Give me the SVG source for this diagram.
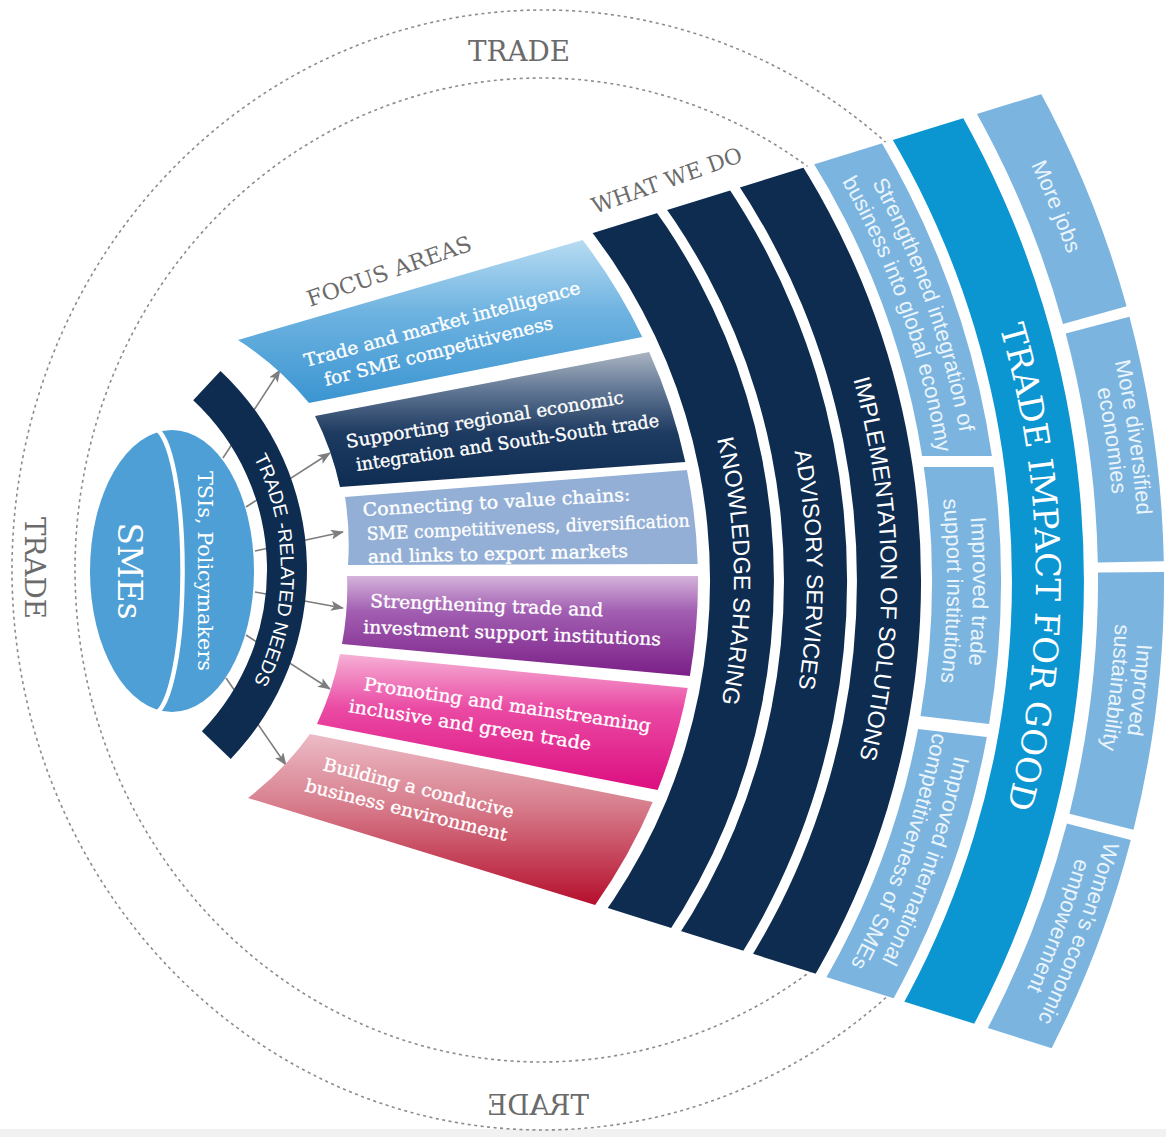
<svg xmlns="http://www.w3.org/2000/svg" width="1166" height="1137" viewBox="0 0 1166 1137">
  <defs>
    <style>
      .slab{font-family:"DejaVu Serif","Liberation Serif",serif}
      .sans{font-family:"Liberation Sans",Arial,sans-serif}
      .gray{fill:#6b6b6b}
      .focus{font-size:18px;fill:#ffffff;stroke:#ffffff;stroke-width:0.35}
      .wwd{fill:#ffffff}
      .out{font-size:22px;fill:#eaf4fb}
      .navy{fill:#0e2c50}
      .light{fill:#7cb4e0}
      .dash{fill:none;stroke:#8c8c8c;stroke-width:1.6;stroke-dasharray:3 3.5}
      .arrow{stroke:#7d7d7d;stroke-width:1.6;fill:none}
    </style>
    <linearGradient id="g1" x1="0" y1="0" x2="0" y2="1">
      <stop offset="0" stop-color="#b7dbf2"/><stop offset="0.45" stop-color="#6db2e0"/><stop offset="1" stop-color="#3b95d1"/>
    </linearGradient>
    <linearGradient id="g2" x1="0" y1="0" x2="0" y2="1">
      <stop offset="0" stop-color="#aab4c2"/><stop offset="0.3" stop-color="#5d7391"/><stop offset="0.6" stop-color="#1d3a60"/><stop offset="1" stop-color="#0f2c52"/>
    </linearGradient>
    <linearGradient id="g4" x1="0" y1="0" x2="0" y2="1">
      <stop offset="0" stop-color="#d4b3da"/><stop offset="0.35" stop-color="#a25fb2"/><stop offset="1" stop-color="#7b1f87"/>
    </linearGradient>
    <linearGradient id="g5" x1="0" y1="0" x2="0" y2="1">
      <stop offset="0" stop-color="#f6b0d6"/><stop offset="0.4" stop-color="#ea4aa4"/><stop offset="1" stop-color="#dc0e80"/>
    </linearGradient>
    <linearGradient id="g6" x1="0" y1="0" x2="0" y2="1">
      <stop offset="0" stop-color="#ecbcc6"/><stop offset="0.4" stop-color="#d8808f"/><stop offset="1" stop-color="#b50f2c"/>
    </linearGradient>
    <marker id="head" markerWidth="13" markerHeight="10" refX="12" refY="5" orient="auto" markerUnits="userSpaceOnUse">
      <path d="M0,0 L13,5 L0,10 L3,5 Z" fill="#7d7d7d"/>
    </marker>
    <!-- wedge that trims the ends of the outer bands -->
    <clipPath id="fan"><polygon points="450,277.3 1166,55.4 1166,1084.3 450,858.1"/></clipPath>
    <!-- everything except that wedge, for the dashed rings -->
    <clipPath id="ring"><polygon points="0,0 1166,0 1166,55.4 560,243.2 560,892.8 1166,1084.3 1166,1137 0,1137"/></clipPath>
    <!-- baselines for curved labels (centre 136,581, -60deg..60deg) -->
    <path id="tpK" d="M435,63.1 A598,598 0 0 1 435,1098.9"/>
    <path id="tpA" d="M471.5,-0.1 A671,671 0 0 1 471.5,1162.1"/>
    <path id="tpI" d="M508.5,-64.2 A745,745 0 0 1 508.5,1226.2"/>
    <path id="tpT" d="M586,-198.4 A900,900 0 0 1 586,1360.4"/>
    <path id="tp811" d="M541.5,-121.4 A811,811 0 0 1 541.5,1283.4"/>
    <path id="tp837" d="M554.5,-143.8 A837,837 0 0 1 554.5,1305.8"/>
    <path id="tp980" d="M626,-267.7 A980,980 0 0 1 626,1429.7"/>
    <path id="tp1003" d="M637.5,-287.6 A1003,1003 0 0 1 637.5,1449.6"/>
    <path id="tp987" d="M629.5,-273.8 A987,987 0 0 1 629.5,1435.8"/>
    <path id="tpN" d="M158,357 A246,246 0 0 1 158,783"/>
  </defs>

  <rect width="1166" height="1137" fill="#ffffff"/>
  <rect y="1129" width="1166" height="8" fill="#f1f1f1"/>

  <!-- outer TRADE rings -->
  <g id="trade-ring">
    <g clip-path="url(#ring)">
      <ellipse class="dash" cx="543" cy="570" rx="531" ry="560"/>
      <ellipse class="dash" cx="541" cy="570" rx="466" ry="492"/>
    </g>
    <text class="slab gray" x="519" y="61" font-size="28" text-anchor="middle" textLength="102" lengthAdjust="spacingAndGlyphs">TRADE</text>
    <text class="slab gray" transform="translate(25,568) rotate(90)" font-size="28" text-anchor="middle" textLength="102" lengthAdjust="spacingAndGlyphs">TRADE</text>
    <text class="slab gray" transform="translate(538,1115) scale(-1,1)" font-size="28" text-anchor="middle" textLength="102" lengthAdjust="spacingAndGlyphs">TRADE</text>
  </g>

  <!-- arrows from clients to focus areas -->
  <g id="connectors">
    <line class="arrow" x1="223" y1="458" x2="280" y2="370" marker-end="url(#head)"/>
    <line class="arrow" x1="246" y1="507" x2="330" y2="453" marker-end="url(#head)"/>
    <line class="arrow" x1="255" y1="551" x2="343" y2="532" marker-end="url(#head)"/>
    <line class="arrow" x1="255" y1="592" x2="343" y2="608" marker-end="url(#head)"/>
    <line class="arrow" x1="246" y1="635" x2="330" y2="689" marker-end="url(#head)"/>
    <line class="arrow" x1="226" y1="678" x2="286" y2="765" marker-end="url(#head)"/>
  </g>

  <!-- clients -->
  <g id="node-clients">
    <ellipse cx="172" cy="571" rx="82" ry="141" fill="#4d9fd5"/>
    <path d="M154,428 A30,143 0 0 1 151,714" fill="none" stroke="#ffffff" stroke-width="4.5"/>
    <text class="slab" transform="translate(118,571) rotate(90)" font-size="34" fill="#ffffff" text-anchor="middle" textLength="97" lengthAdjust="spacingAndGlyphs">SMEs</text>
    <text class="slab" transform="translate(198,571) rotate(90)" font-size="20" fill="#ffffff" text-anchor="middle" textLength="200" lengthAdjust="spacingAndGlyphs">TSIs, Policymakers</text>
  </g>

  <!-- trade-related needs -->
  <g id="node-needs">
    <path class="navy" d="M220.5,371.1 A272,272 0 0 1 230.7,758.9 L201.9,731.2 A232,232 0 0 0 193.2,400.3 Z"/>
    <text class="sans" font-size="19" fill="#ffffff"><textPath href="#tpN" startOffset="50%" text-anchor="middle">TRADE -RELATED NEEDS</textPath></text>
  </g>

  <!-- focus areas -->
  <text class="slab gray" transform="translate(310,307) rotate(-19.3)" font-size="22" textLength="173" lengthAdjust="spacingAndGlyphs">FOCUS AREAS</text>
  <g id="focus-market-intelligence">
    <path fill="url(#g1)" d="M238,340 L582.7,240 A562,562 0 0 1 642.3,337 L309,403 A300,300 0 0 0 238,340 Z"/>
    <text class="slab focus" transform="translate(306,367) rotate(-15)" textLength="285" lengthAdjust="spacingAndGlyphs">Trade and market intelligence</text>
    <text class="slab focus" transform="translate(326,386) rotate(-14.2)" textLength="235" lengthAdjust="spacingAndGlyphs">for SME competitiveness</text>
  </g>
  <g id="focus-regional-integration">
    <path fill="url(#g2)" d="M315,416 L649.2,352 A562,562 0 0 1 685.3,462 L340,487 A300,300 0 0 0 315,416 Z"/>
    <text class="slab focus" transform="translate(347,448) rotate(-9.2)" textLength="281" lengthAdjust="spacingAndGlyphs">Supporting regional economic</text>
    <text class="slab focus" transform="translate(357,471) rotate(-8.4)" textLength="306" lengthAdjust="spacingAndGlyphs">integration and South-South trade</text>
  </g>
  <g id="focus-value-chains">
    <path fill="#93afd5" d="M345,497 L686.9,470 A562,562 0 0 1 697.7,564 L348,565 A300,300 0 0 0 345,497 Z"/>
    <text class="slab focus" transform="translate(363,516) rotate(-3.3)" textLength="268" lengthAdjust="spacingAndGlyphs">Connecting to value chains:</text>
    <text class="slab focus" transform="translate(367,540) rotate(-2.4)" textLength="323" lengthAdjust="spacingAndGlyphs">SME competitiveness, diversification</text>
    <text class="slab focus" transform="translate(368,563) rotate(-1.3)" textLength="260" lengthAdjust="spacingAndGlyphs">and links to export markets</text>
  </g>
  <g id="focus-institutions">
    <path fill="url(#g4)" d="M347,576 L698,576 A562,562 0 0 1 689.9,676 L342,644 A300,300 0 0 0 347,576 Z"/>
    <text class="slab focus" transform="translate(370,607) rotate(2.3)" textLength="233" lengthAdjust="spacingAndGlyphs">Strengthening trade and</text>
    <text class="slab focus" transform="translate(363,633) rotate(2.4)" textLength="298" lengthAdjust="spacingAndGlyphs">investment support institutions</text>
  </g>
  <g id="focus-inclusive-green">
    <path fill="url(#g5)" d="M340,654 L687.7,688 A562,562 0 0 1 657.7,790 L317,724 A300,300 0 0 0 340,654 Z"/>
    <text class="slab focus" transform="translate(363,690) rotate(8.3)" textLength="290" lengthAdjust="spacingAndGlyphs">Promoting and mainstreaming</text>
    <text class="slab focus" transform="translate(348,712) rotate(9)" textLength="245" lengthAdjust="spacingAndGlyphs">inclusive and green trade</text>
  </g>
  <g id="focus-business-environment">
    <path fill="url(#g6)" d="M310,734 L652.7,802 A562,562 0 0 1 595.2,905 L248,798 A300,300 0 0 0 310,734 Z"/>
    <text class="slab focus" transform="translate(322,770) rotate(14.2)" textLength="196" lengthAdjust="spacingAndGlyphs">Building a conducive</text>
    <text class="slab focus" transform="translate(304,791) rotate(13.9)" textLength="208" lengthAdjust="spacingAndGlyphs">business environment</text>
  </g>

  <!-- what we do -->
  <text class="slab gray" transform="translate(595,214) rotate(-19.5)" font-size="22" textLength="158" lengthAdjust="spacingAndGlyphs">WHAT WE DO</text>
  <g id="wwd-knowledge">
    <path class="navy" clip-path="url(#fan)" d="M587.1,129.9 A638,638 0 0 1 587.1,1032.1 L541.9,986.9 A574,574 0 0 0 541.9,175.1 Z"/>
    <text class="sans wwd" font-size="23.5"><textPath href="#tpK" startOffset="49.2%" text-anchor="middle">KNOWLEDGE SHARING</textPath></text>
  </g>
  <g id="wwd-advisory">
    <path class="navy" clip-path="url(#fan)" d="M638.8,78.2 A711,711 0 0 1 638.8,1083.8 L594.2,1039.2 A648,648 0 0 0 594.2,122.8 Z"/>
    <text class="sans wwd" font-size="22.8"><textPath href="#tpA" startOffset="49.2%" text-anchor="middle">ADVISORY SERVICES</textPath></text>
  </g>
  <g id="wwd-implementation">
    <path class="navy" clip-path="url(#fan)" d="M691.1,25.9 A785,785 0 0 1 691.1,1136.1 L645.8,1090.8 A721,721 0 0 0 645.8,71.2 Z"/>
    <text class="sans wwd" font-size="23.3"><textPath href="#tpI" startOffset="49.2%" text-anchor="middle">IMPLEMENTATION OF SOLUTIONS</textPath></text>
  </g>

  <!-- direct outcomes -->
  <g id="out-integration">
    <path class="light" clip-path="url(#fan)" d="M747.6,-30.6 A865,865 0 0 1 991.9,456 L922.1,456 A796,796 0 0 0 698.9,18.1 Z"/>
    <text class="sans out"><textPath href="#tp837" startOffset="33.9%" text-anchor="middle">Strengthened integration of</textPath></text>
    <text class="sans out"><textPath href="#tp811" startOffset="33.9%" text-anchor="middle">business into global economy</textPath></text>
  </g>
  <g id="out-tsi">
    <path class="light" d="M993.5,467 A865,865 0 0 1 989.1,724 L920.5,716 A796,796 0 0 0 923.8,467 Z"/>
    <text class="sans out"><textPath href="#tp837" startOffset="50.58%" text-anchor="middle">Improved trade</textPath></text>
    <text class="sans out"><textPath href="#tp811" startOffset="50.58%" text-anchor="middle">support institutions</textPath></text>
  </g>
  <g id="out-competitiveness">
    <path class="light" clip-path="url(#fan)" d="M986.8,737 A865,865 0 0 1 747.6,1192.6 L698.9,1143.9 A796,796 0 0 0 918.1,729 Z"/>
    <text class="sans out"><textPath href="#tp837" startOffset="66.25%" text-anchor="middle">Improved international</textPath></text>
    <text class="sans out"><textPath href="#tp811" startOffset="66.25%" text-anchor="middle">competitiveness of SMEs</textPath></text>
  </g>

  <!-- trade impact for good -->
  <g id="impact">
    <path clip-path="url(#fan)" fill="#0b95d1" d="M806.3,-89.3 A948,948 0 0 1 806.3,1251.3 L755.4,1200.4 A876,876 0 0 0 755.4,-38.4 Z"/>
    <text class="slab" font-size="34" fill="#ffffff"><textPath href="#tpT" startOffset="49.25%" text-anchor="middle">TRADE IMPACT FOR GOOD</textPath></text>
  </g>

  <!-- long-term impacts -->
  <g id="impact-jobs">
    <path class="light" clip-path="url(#fan)" d="M862.9,-145.9 A1028,1028 0 0 1 1126.6,306.3 L1063,323.9 A962,962 0 0 0 816.2,-99.2 Z"/>
    <text class="sans out"><textPath href="#tp987" startOffset="31.54%" text-anchor="middle">More jobs</textPath></text>
  </g>
  <g id="impact-diversified">
    <path class="light" d="M1129.4,316.7 A1028,1028 0 0 1 1163.8,561.3 L1097.8,562.5 A962,962 0 0 0 1065.7,333.6 Z"/>
    <text class="sans out"><textPath href="#tp1003" startOffset="43.17%" text-anchor="middle">More diversified</textPath></text>
    <text class="sans out"><textPath href="#tp980" startOffset="43.17%" text-anchor="middle">economies</textPath></text>
  </g>
  <g id="impact-sustainability">
    <path class="light" d="M1164,572 A1028,1028 0 0 1 1133.5,829.7 L1069.4,813.7 A962,962 0 0 0 1098,572.6 Z"/>
    <text class="sans out"><textPath href="#tp1003" startOffset="55.17%" text-anchor="middle">Improved</textPath></text>
    <text class="sans out"><textPath href="#tp980" startOffset="55.17%" text-anchor="middle">sustainability</textPath></text>
  </g>
  <g id="impact-women">
    <path class="light" clip-path="url(#fan)" d="M1130.8,840.1 A1028,1028 0 0 1 862.9,1307.9 L816.2,1261.2 A962,962 0 0 0 1066.9,823.5 Z"/>
    <text class="sans out"><textPath href="#tp1003" startOffset="67.08%" text-anchor="middle">Women’s economic</textPath></text>
    <text class="sans out"><textPath href="#tp980" startOffset="67.08%" text-anchor="middle">empowerment</textPath></text>
  </g>
</svg>
